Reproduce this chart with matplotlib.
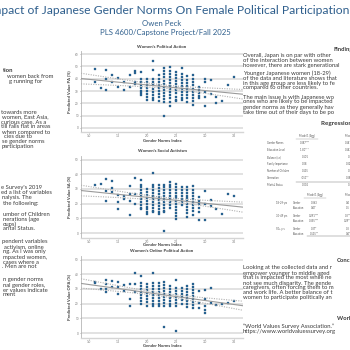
import numpy as np
import matplotlib.pyplot as plt

plt.rcParams['font.family'] = ['Lato', 'DejaVu Sans']

# Gender Norms Index levels (x) and predicted values per level for each outcome
gni_levels = [1.1, 1.2, 1.3, 1.4, 1.5, 1.6, 1.7, 1.8, 1.9, 2.0, 2.1, 2.2, 2.3,
              2.4, 2.5, 2.6, 2.7, 2.8, 2.9, 3.0, 3.1, 3.2, 3.3, 3.4, 3.5]

pa_cols = [
    [48, 37.7], [32.8], [46.7, 39.9, 30.9], [43.2, 37.7], [40.4, 33.6],
    [37.2, 30.9], [42.6, 33.1], [46.4, 44.5, 37.7, 35.5],
    [45.4, 40, 37.5, 35, 32.5, 30, 28, 27],
    [40, 37.5, 35, 32.5, 30, 27.5, 25, 23],
    [54.6, 47.3, 40, 37.5, 35, 32, 29.5, 27, 24.5, 23],
    [42.6, 40, 37.5, 35, 32.5, 30, 27.5, 25, 22],
    [48.6, 46, 43.5, 41, 38.5, 36, 33.5, 31, 28.5, 26, 23.5, 21.3, 9.6],
    [49.2, 46.5, 44, 41.5, 39, 36.5, 34, 31.5, 29, 26.5, 24, 21, 18],
    [45.4, 43, 40.5, 38, 35.5, 33, 30.5, 28, 25.5, 23, 22],
    [48.6, 44, 41.5, 39, 36.5, 34, 31.5, 29, 26.5, 24, 22.7],
    [41.8, 39, 36.5, 34, 31.5, 29, 26.5, 24, 21.3],
    [42.6, 40, 37.5, 35, 32, 29.5, 27, 24.5, 22, 18.6],
    [33.6, 31, 28.5, 26, 24],
    [39.9, 37.2, 29.5, 25.4, 18], [39, 27.3], [25.4, 20.5], [22.1], [35], [41],
]

sa_cols = [
    [32.5], [33.6], [37, 28.6, 21.8], [35.5, 30.9, 28], [25.7, 21.1, 16.1],
    [25, 23.4], [32, 26.4, 21.8, 12.5], [37.5, 26.8, 20],
    [35.9, 33, 31, 29, 27, 25, 23, 21, 19, 17, 16],
    [30, 28, 26, 24, 22, 20, 18, 16, 14, 13.2],
    [40.9, 33, 31, 29, 27, 25, 23, 21, 19, 17, 15, 14.3],
    [32.5, 30.5, 28.5, 26.5, 24.5, 22.5, 20.5, 18.5, 16.5, 14.5, 13.2],
    [33, 31, 29, 27, 25, 23, 21, 19, 17, 15, 14.3, 1.4],
    [34.8, 33, 31, 29, 27, 25, 23, 21, 19, 17],
    [33.6, 31.5, 29.5, 27.5, 25.5, 23.5, 21.5, 19.5, 17.5, 15.5, 13.5, 11.5, 9.8],
    [31.4, 29, 27, 25, 23, 21, 18.9],
    [31.4, 29.5, 27.5, 25.5, 23.5, 21.5, 19.5, 17.5, 15.5, 13.5, 11],
    [31.8, 29, 27, 25, 23, 21, 19, 17, 15, 12],
    [24.5, 22, 20, 17, 14, 8.6],
    [28.6, 20, 8.6], [22.3, 18.2], [16.6], [12.7], [26.4], [25.2],
]

opa_cols = [
    [34.8, 33.9], [29.8], [36.1, 33.2, 29.8, 27.6], [35.4, 31.6], [34.8, 31, 26.5],
    [32.5, 28.7], [33.2, 23.1, 18.2], [41, 33.2, 27.6],
    [38.8, 34.3, 32, 30, 28, 26, 24, 22, 19.7],
    [33.2, 31, 29, 27, 25, 23, 21, 18.6],
    [40.6, 34.3, 32, 30, 28, 26, 24, 22, 20, 18.6],
    [34.3, 32, 30, 28, 26, 24, 22, 20, 18.6],
    [34.8, 32.5, 30.5, 28.5, 26.5, 24.5, 22.5, 20.5, 18.6, 4],
    [32, 30, 28, 26, 24, 22, 20, 18.6],
    [36.1, 30.9, 28.5, 26.5, 24.5, 22.5, 20.5, 18.6, 1.1],
    [30.9, 28.5, 26.5, 24.5, 22.5, 19.7],
    [32, 30, 28, 26, 24, 22, 20, 17.5],
    [33.2, 31, 29, 27, 25, 23, 21, 19, 16.8],
    [28.5, 20.6, 17.3],
    [29.2, 23.1, 18.6, 15.9, 13.7], [30.3, 20.2], [18.8], [20], [20.2], [21.5],
]

# regression table text
reg_rows = ["Gender Norms", "Education Level", "Balance (i.e)", "Family Importance",
            "Number of Children", "Generation", "Marital Status"]
reg_m1 = ["0.387***", "-1.80***", "0.101", "0.08", "0.135", "-.051**", "0.002"]
reg_m2 = ["0.341***", "0.347***", "0.18", "0.327**", "0.0", "0.380**", "-0.1"]
age_groups = ["18-29 yrs", "30-49 yrs", "50+ yrs"]
age_gender = ["0.363", "0.291***", "0.37*"]
age_educ = ["0.47", "0.355***", "0.535**"]
age_gender2 = ["0.4", "0.3***", "0.3"]
age_educ2 = ["0.5", "0.29***", "0.4*"]

W = H = 350
fig = plt.figure(figsize=(3.5, 3.5), dpi=100)
fig.patch.set_facecolor("white")


def ftext(x, y, s, **kw):
    kw.setdefault("va", "center")
    return fig.text(x / W, 1 - y / H, s, **kw)


def prect(left, top, right, bottom):
    return [left / W, 1 - bottom / H, (right - left) / W, (bottom - top) / H]


blue = "#2f5f8d"
ink = "#3a3a3a"

# header
ftext(349, 10, "Impact of Japanese Gender Norms On Female Political Participation",
      ha="right", fontsize=8.75, color=blue)
ftext(162, 23, "Owen Peck", ha="center", fontsize=5.6, color=blue)
ftext(165, 33, "PLS 4600/Capstone Project/Fall 2025", ha="center", fontsize=5.6, color=blue)


def panel(top, bottom, cols, ylim, ylabel, title, title_y, xlabel_y):
    ax = fig.add_axes(prect(81, top, 243, bottom))
    x = np.concatenate([[g] * len(c) for g, c in zip(gni_levels, cols)])
    y = np.concatenate(cols)
    ax.scatter(x, y, s=3.0, marker="s", color="#2a6899", edgecolor="#1d4f78",
               linewidth=0.2, zorder=3)
    slope, icpt = np.polyfit(x, y, 1)
    xs = np.linspace(0.86, 3.66, 60)
    fit = icpt + slope * xs
    resid = y - (icpt + slope * x)
    s = np.sqrt(np.sum(resid ** 2) / (len(x) - 2))
    se = s * np.sqrt(1 / len(x) + (xs - x.mean()) ** 2 / np.sum((x - x.mean()) ** 2))
    ax.plot(xs, fit, color="#9a9a9a", lw=0.8, zorder=4)
    ax.plot(xs, fit + 1.96 * se, color="#b0b0b0", lw=0.8, ls=(0, (1, 1.2)), zorder=4)
    ax.plot(xs, fit - 1.96 * se, color="#b0b0b0", lw=0.8, ls=(0, (1, 1.2)), zorder=4)
    ax.set_xlim(0.86, 3.66)
    ax.set_ylim(*ylim)
    ax.set_xticks([1.0, 1.5, 2.0, 2.5, 3.0, 3.5])
    ax.set_yticks(np.arange(0, ylim[1], 10))
    ax.grid(axis="y", color="#e2e2e2", lw=1.4)
    ax.set_axisbelow(True)
    for sp in ("top", "right"):
        ax.spines[sp].set_visible(False)
    ax.spines["left"].set_color("#b5b5b5")
    ax.spines["left"].set_linewidth(0.6)
    ax.spines["bottom"].set_color("#d5d5d5")
    ax.spines["bottom"].set_linewidth(1.0)
    ax.tick_params(labelsize=2.2, colors="#777", length=1.0, width=0.4, pad=0.6)
    ax.set_ylabel(ylabel, fontsize=3.0, fontweight="bold", color=ink, labelpad=2.5)
    ftext(162, title_y, title, ha="center", fontsize=3.2, fontweight="bold", color=ink)
    ftext(162, xlabel_y, "Gender Norms Index", ha="center", fontsize=3.0,
          fontweight="bold", color=ink)
    return ax


panel(51, 132, pa_cols, (-3.3, 62.5), "Predicted Value PA (%)",
      "Women's Political Action", 47, 141)
panel(156, 238, sa_cols, (-3.4, 52.4), "Predicted Value SA (%)",
      "Women's Social Activism", 151.5, 245.5)
panel(256, 338, opa_cols, (-3.4, 52.4), "Predicted Value OPA (%)",
      "Women's Online Political Action", 251.5, 346)

body = dict(fontsize=4.2, color=ink, ha="left")

# left column (cut off at the page edge)
left_lines = [
    (71, 3, "tion", True), (77, 7, "women back from", False), (82, 9, "g running for", False),
    (112, 1, "towards more", False), (117, 2, "women, East Asia,", False),
    (122, 1, "curious case. As a", False), (127, 1, "till falls flat in areas", False),
    (132, 2, "when compared to", False), (137, 4, "cies due to", False),
    (142, 2, "se gender norms", False), (147, 2, "participation", False),
    (188, 1, "e Survey's 2019", False), (193, 1, "ed a list of variables", False),
    (198, 2, "nalysis. The", False), (203, 3, "the following:", False),
    (214, 3, "umber of Children", False), (219, 3, "nerations (age", False),
    (224, 3, "oups)", False), (229, 3, "arital Status.", False),
    (242, 2, "pendent variables", False), (247, 4, "activism, online", False),
    (252, 3, "ng. As I was only", False), (257, 3, "mpacted women,", False),
    (262, 3, "cases where a", False), (267, 2, ". Men are not", False),
    (280, 3, "n gender norms", False), (285, 3, "nal gender roles,", False),
    (290, 3, "er values indicate", False), (295, 3, "ment", False),
]
for y, x, s, b in left_lines:
    ftext(x, y, s, fontweight="bold" if b else "normal", **body)

# right column
ftext(333, 49, "Findings", fontweight="bold", **body)
findings = [
    (55, "Overall, Japan is on par with other"),
    (60, "of the interaction between women"),
    (65, "however, there are stark generational"),
    (73, "Younger Japanese women (18-29)"),
    (78, "of the data and literature shows that"),
    (83, "in this age group are less likely to fe"),
    (88, "compared to other countries."),
    (97, "The main issue is with Japanese wo"),
    (102, "ones who are likely to be impacted"),
    (107, "gender norms as they generally hav"),
    (112, "take time out of their days to be po"),
]
for y, s in findings:
    ftext(243, y, s, **body)

ftext(321, 124, "Regression Table", fontweight="bold", fontsize=4.6, color=ink, ha="left")
tiny = dict(fontsize=1.9, color="#555")
ftext(307, 136, "Model 1 (Agg)", ha="center", **tiny)
ftext(350, 136, "Model 2", ha="center", **tiny)
fig.add_artist(plt.Line2D([296 / W, 318 / W], [1 - 138.5 / H] * 2, color="#999", lw=0.3))
for i, (lab, a, b) in enumerate(zip(reg_rows, reg_m1, reg_m2)):
    yy = 143 + i * 7
    ftext(267, yy, lab, ha="left", **tiny)
    ftext(305, yy, a, ha="center", **tiny)
    ftext(350, yy, b, ha="center", **tiny)
fig.add_artist(plt.Line2D([296 / W, 350 / W], [1 - 182 / H] * 2, color="#666", lw=0.3))

ftext(315, 195, "Model 1 (Agg)", ha="center", **tiny)
ftext(350, 195, "Model 2", ha="center", **tiny)
fig.add_artist(plt.Line2D([304 / W, 326 / W], [1 - 197.5 / H] * 2, color="#999", lw=0.3))
for i, grp in enumerate(age_groups):
    yy = 203 + i * 13
    ftext(276, yy, grp, ha="left", **tiny)
    ftext(293, yy, "Gender", ha="left", **tiny)
    ftext(314, yy, age_gender[i], ha="center", **tiny)
    ftext(348, yy, age_gender2[i], ha="center", **tiny)
    ftext(293, yy + 5, "Education", ha="left", **tiny)
    ftext(314, yy + 5, age_educ[i], ha="center", **tiny)
    ftext(348, yy + 5, age_educ2[i], ha="center", **tiny)
fig.add_artist(plt.Line2D([307 / W, 350 / W], [1 - 236 / H] * 2, color="#666", lw=0.3))

ftext(337, 261, "Conclusion", fontweight="bold", **body)
conclusion = [
    (268, "Looking at the collected data and r"),
    (273, "empower younger to middle aged"),
    (278, "that is impacted the most while ne"),
    (283, "not see much disparity. The gende"),
    (288, "caregivers, often forcing them to m"),
    (293, "and work life. A better balance of t"),
    (298, "women to participate politically an"),
]
for y, s in conclusion:
    ftext(243, y, s, **body)

ftext(337, 319, "Works Cited", fontweight="bold", **body)
ftext(243, 326, "\u201cWorld Values Survey Association.\u201d", **body)
ftext(243, 331, "https://www.worldvaluessurvey.org", **body)

fig.savefig("out.png", dpi=100, facecolor="white")
